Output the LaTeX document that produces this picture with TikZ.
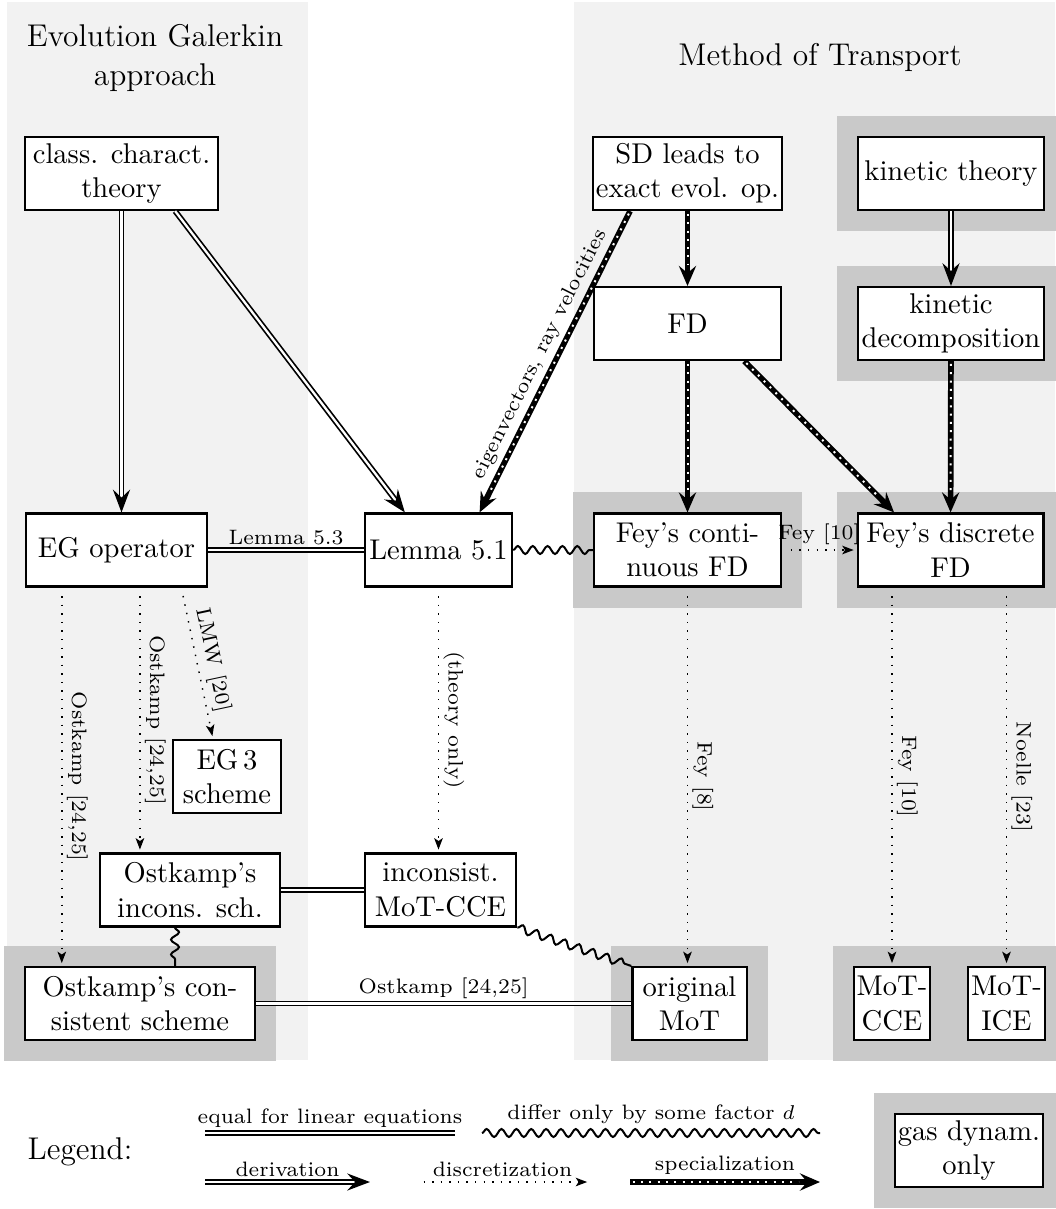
\documentclass[tikz,border=0pt]{standalone}
\usetikzlibrary{arrows.meta,decorations.pathmorphing,backgrounds,calc}

\definecolor{paneback}{gray}{0.95}
\definecolor{gasback}{gray}{0.79}

\tikzset{every picture/.style={line width=0.75pt}}
\tikzset{
	box/.style={draw, line width=0.8pt, fill=white, align=center, minimum height=25.5pt, inner sep=1pt},
	equal/.style={double, double distance=0.8pt, line width=0.6pt},
	deriv/.style={equal, -{Stealth[length=8pt,width=6pt,inset=2.8pt]}},
	discr/.style={line width=0.5pt, dash pattern=on 0.5pt off 2.5pt, -{Stealth[length=4pt,width=3pt,inset=1pt]}, shorten <=3pt, shorten >=1pt},
	spec/.style={line width=2pt, -{Stealth[length=7pt,width=6pt,inset=2.5pt]}, postaction={draw=white, line width=0.7pt, dash pattern=on 0.7pt off 2.2pt, -, shorten >=7.5pt, shorten <=1pt}},
	wavy/.style={line width=0.7pt, decorate, decoration={snake, amplitude=1.4pt, segment length=5.2pt}},
	lbl/.style={font=\fontsize{7.3}{8.8}\selectfont, inner sep=1.5pt},
	vlbl/.style={lbl, rotate=-90, anchor=south},
	title/.style={font=\fontsize{11}{13.5}\selectfont, align=center}
}

\begin{document}
\begin{tikzpicture}[x=0.35pt,y=0.35pt,yscale=-1]
	\useasboundingbox (0,0) rectangle (1055,1209);

	% Text Node
	\node[title] (egtitle) at (155,58) {Evolution Galerkin\\approach};
	% Text Node
	\node[title] (mottitle) at (820,57) {Method of Transport};

	%Shape: Rectangle
	\node[box, minimum width=67.5pt] (cct) at (121.5,173.5) {class. charact.\\theory};
	%Shape: Rectangle
	\node[box, minimum width=65.5pt] (sd) at (687.5,173.5) {SD leads to\\exact evol. op.};
	%Shape: Rectangle
	\node[box, minimum width=65pt] (kin) at (951,173.5) {kinetic theory};
	%Shape: Rectangle
	\node[box, minimum width=65.5pt] (fd) at (687.5,323.5) {FD};
	%Shape: Rectangle
	\node[box, minimum width=65pt] (kdec) at (951,323.5) {kinetic\\decomposition};
	%Shape: Rectangle
	\node[box, minimum width=63.5pt] (ego) at (116.5,550) {EG operator};
	%Shape: Rectangle
	\node[box, minimum width=51.5pt] (lem) at (438.5,550) {Lemma 5.1};
	%Shape: Rectangle
	\node[box, minimum width=65.5pt] (feyc) at (687.5,550) {Fey's conti-\\nuous FD};
	%Shape: Rectangle
	\node[box, minimum width=65pt] (feyd) at (950.5,550) {Fey's discrete\\FD};
	%Shape: Rectangle
	\node[box, minimum width=38pt] (eg3) at (227,776.5) {EG\,3\\scheme};
	%Shape: Rectangle
	\node[box, minimum width=63pt] (osti) at (190,890) {Ostkamp's\\incons. sch.};
	%Shape: Rectangle
	\node[box, minimum width=53pt] (icce) at (440.5,890) {inconsist.\\MoT-CCE};
	%Shape: Rectangle
	\node[box, minimum width=80.5pt] (ostc) at (140,1003.5) {Ostkamp's con-\\sistent scheme};
	%Shape: Rectangle
	\node[box, minimum width=40pt] (omot) at (689.5,1003.5) {original\\MoT};
	%Shape: Rectangle
	\node[box, minimum width=24.5pt] (cce) at (892,1003.5) {MoT-\\CCE};
	%Shape: Rectangle
	\node[box, minimum width=24pt] (ice) at (1006.5,1003.5) {MoT-\\ICE};
	%Shape: Rectangle
	\node[box, minimum width=50.5pt] (gas) at (969,1150.5) {gas dynam.\\only};

	% panels behind
	\begin{scope}[on background layer]
		\fill[paneback] (7,2) rectangle (308,1060);
		\fill[paneback] (574,2) rectangle (1055,1060);
		\foreach \n in {kin,kdec,feyc,feyd,ostc,omot,cce,ice,gas}
			\fill[gasback] ($(\n.north west)+(-20,-20)$) rectangle ($(\n.south east)+(20,20)$);
	\end{scope}

	%Straight Lines
	\draw[deriv] (cct.south) -- (cct.south |- ego.north);
	\draw[deriv] ($(cct.south)!0.55!(cct.south east)$) -- ($(lem.north west)!0.55!(lem.north)$);
	\draw[deriv] (kin) -- (kdec);
	%Straight Lines
	\draw[spec] ($(sd.south west)!0.4!(sd.south)$) -- ($(lem.north east)!0.45!(lem.north)$) node[lbl, midway, rotate=63.4, anchor=south] {eigenvectors, ray velocities};
	\draw[spec] (sd) -- (fd);
	\draw[spec] (fd) -- (feyc);
	\draw[spec] ($(fd.south east)!0.4!(fd.south)$) -- ($(feyd.north west)!0.4!(feyd.north)$);
	\draw[spec] (kdec) -- (feyd);
	%Straight Lines
	\draw[equal] (ego) -- (lem) node[lbl, midway, above] {Lemma 5.3};
	\draw[equal] (osti) -- (icce);
	\draw[equal] (ostc) -- (omot) node[lbl, midway, above] {Ostkamp [24,25]};
	%Shape: Wave
	\draw[wavy] (lem) -- (feyc);
	\coordinate (w0) at ([xshift=-5.25pt]osti.south);
	\draw[wavy] (w0) -- (w0 |- ostc.north);
	\draw[wavy] (icce.south east) -- (omot.north west);
	%Straight Lines
	\coordinate (e1) at ([xshift=13pt]ego.south west);
	\coordinate (e2) at ([xshift=8.2pt]ego.south);
	\coordinate (e3) at ([xshift=-9.45pt]ego.south east);
	\draw[discr] (feyc) -- (feyd) node[lbl, midway, above] {Fey [10]};
	\draw[discr] (e1) -- (e1 |- ostc.north) node[vlbl, midway] {Ostkamp [24,25]};
	\draw[discr] (e2) -- (e2 |- osti.north) node[vlbl, midway] {Ostkamp [24,25]};
	\draw[discr] (e3) -- ([xshift=-4.9pt]eg3.north) node[lbl, midway, rotate=-78, anchor=south] {LMW [20]};
	\draw[discr] (lem.south) -- (lem.south |- icce.north) node[vlbl, midway] {(theory only)};
	\draw[discr] (feyc.south) -- (feyc.south |- omot.north) node[vlbl, midway] {Fey [8]};
	\draw[discr] (cce.north |- feyd.south) -- (cce.north) node[vlbl, midway] {Fey [10]};
	\draw[discr] (ice.north |- feyd.south) -- (ice.north) node[vlbl, midway] {Noelle [23]};

	% Legend
	\node[title] (legtitle) at (80,1152) {Legend:};
	\coordinate (q1) at (205,1133); \coordinate (q2) at (455,1133);
	\coordinate (w1) at (482,1133); \coordinate (w2) at (820,1133);
	\coordinate (d1) at (205,1182); \coordinate (d2) at (370,1182);
	\coordinate (z1) at (415,1182); \coordinate (z2) at (590,1182);
	\coordinate (s1) at (630,1182); \coordinate (s2) at (820,1182);
	\draw[equal] (q1) -- (q2) node[lbl, midway, above] {equal for linear equations};
	\draw[wavy] (w1) -- (w2) node[lbl, midway, above=1.5pt] {differ only by some factor $d$};
	\draw[deriv] (d1) -- (d2) node[lbl, midway, above] {derivation};
	\draw[discr] (z1) -- (z2) node[lbl, midway, above] {discretization};
	\draw[spec] (s1) -- (s2) node[lbl, midway, above] {specialization};

\end{tikzpicture}
\end{document}
